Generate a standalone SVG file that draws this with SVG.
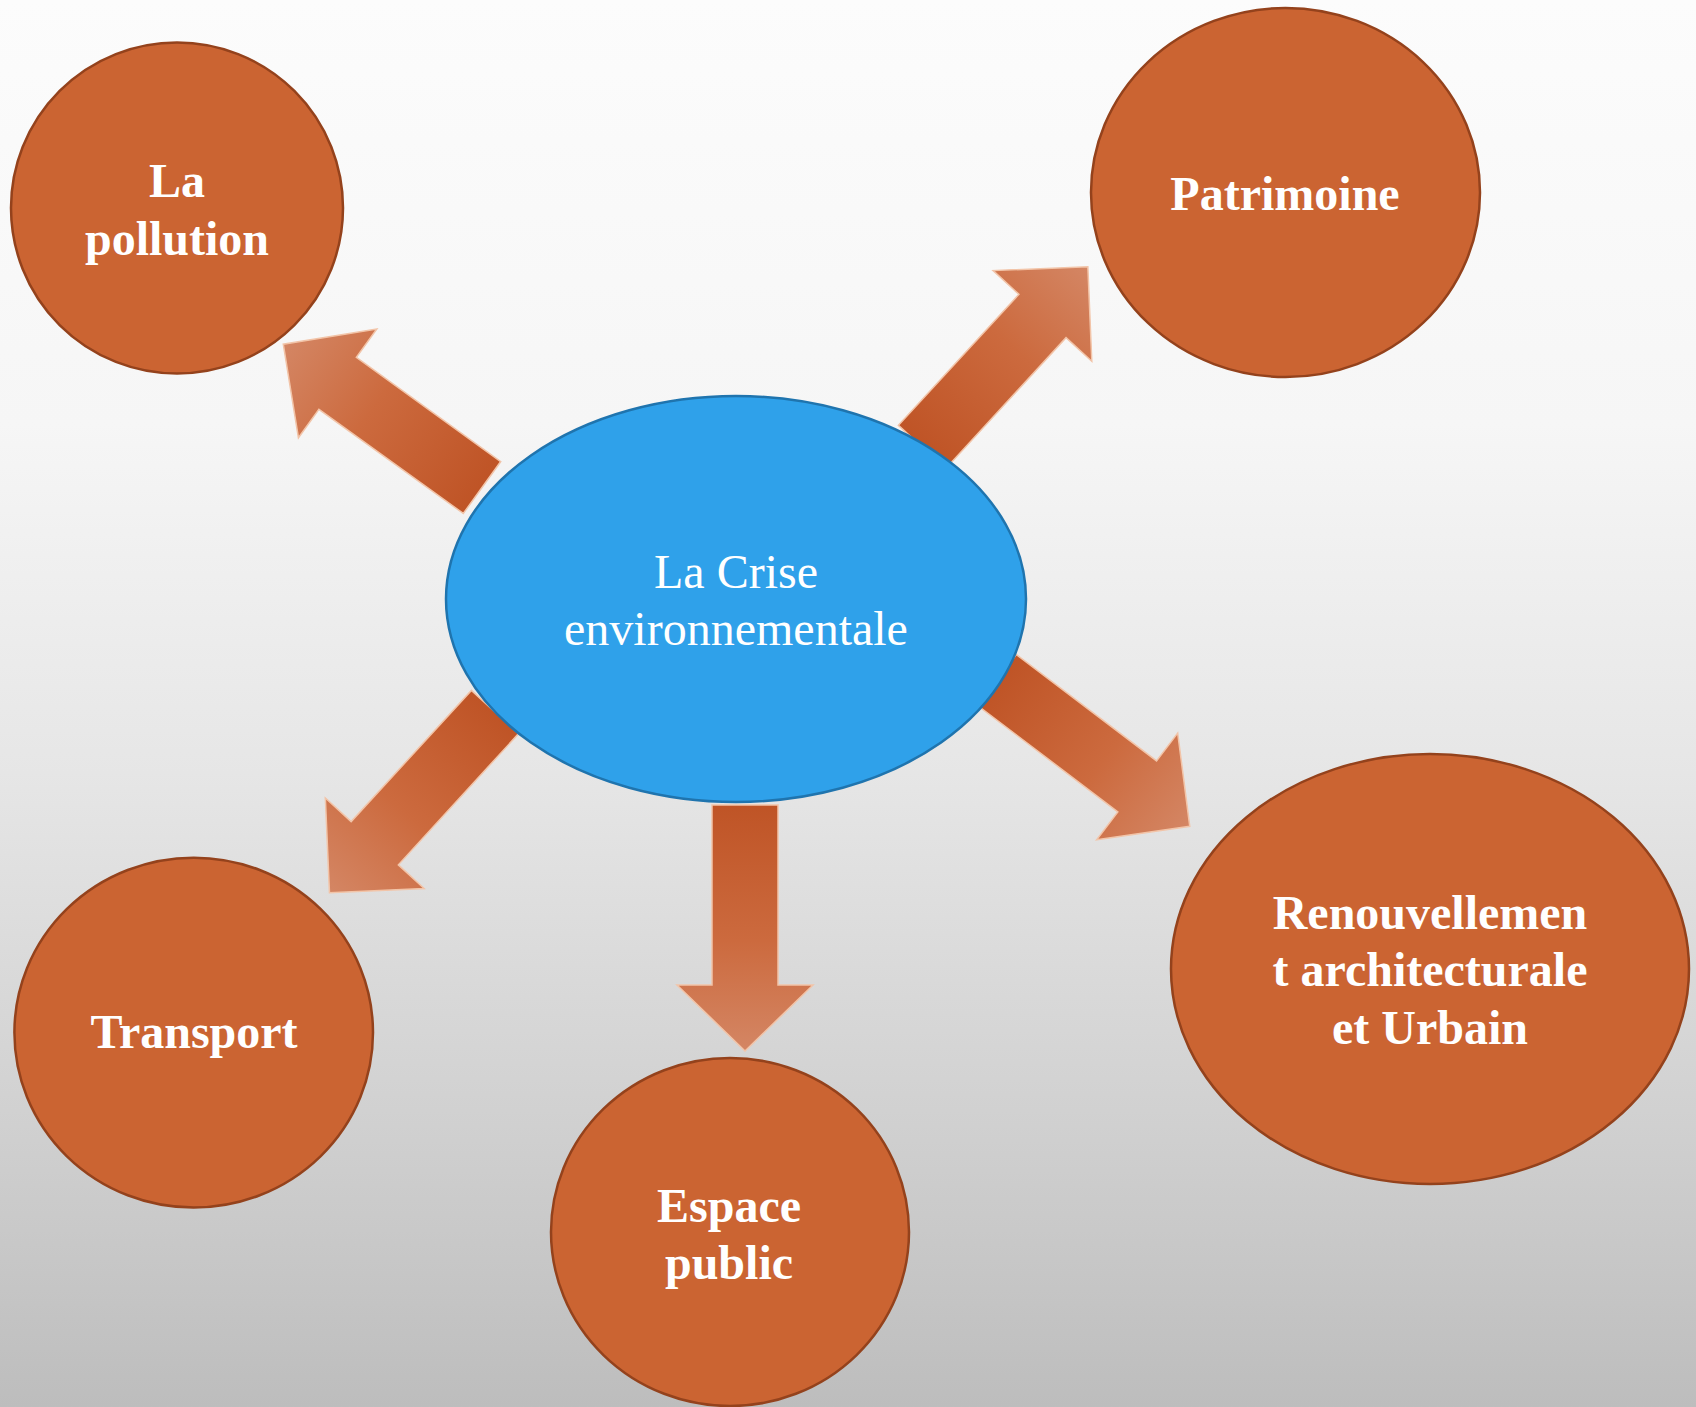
<svg xmlns="http://www.w3.org/2000/svg" width="1696" height="1407" viewBox="0 0 1696 1407">
  <defs>
    <linearGradient id="bg" x1="0" y1="0" x2="0" y2="1">
      <stop offset="0" stop-color="#fcfcfc"/>
      <stop offset="0.3" stop-color="#f6f6f6"/>
      <stop offset="0.55" stop-color="#e6e6e6"/>
      <stop offset="0.8" stop-color="#d0d0d0"/>
      <stop offset="1" stop-color="#bdbdbd"/>
    </linearGradient>
    <linearGradient id="arrowGrad" x1="0" y1="0" x2="1" y2="0">
      <stop offset="0" stop-color="#bf5426"/>
      <stop offset="0.55" stop-color="#cc6a3e"/>
      <stop offset="1" stop-color="#d48664"/>
    </linearGradient>
  </defs>
  <style>
    .arrow { fill: url(#arrowGrad); stroke: #f2c4a8; stroke-width: 1.5; stroke-linejoin: miter; }
    .node { fill: #cb6432; stroke: #94421c; stroke-width: 2.5; }
    .center { fill: #2fa1ea; stroke: #1f74ae; stroke-width: 2.5; }
    .lbl { font-family: "Liberation Serif", "Times New Roman", serif; font-size: 48px; font-weight: bold; fill: #ffffff; text-anchor: middle; }
    .clbl { font-family: "Liberation Serif", "Times New Roman", serif; font-size: 48px; fill: #ffffff; text-anchor: middle; }
  </style>

  <rect x="0" y="0" width="1696" height="1407" fill="url(#bg)"/>

  <g id="connectors">
    <polygon class="arrow" transform="translate(482,487.5) rotate(-144.2)" points="0,-32 178,-32 178,-67 245,0 178,67 178,32 0,32"/>
    <polygon class="arrow" transform="translate(922,447) rotate(-47.4)" points="0,-32 178,-32 178,-67 245,0 178,67 178,32 0,32"/>
    <polygon class="arrow" transform="translate(495,712) rotate(132.5)" points="0,-32 178,-32 178,-67 245,0 178,67 178,32 0,32"/>
    <polygon class="arrow" transform="translate(745,805) rotate(90)" points="0,-33 180,-33 180,-68 246,0 180,68 180,33 0,33"/>
    <polygon class="arrow" transform="translate(997,680) rotate(37.2)" points="0,-32 176,-32 176,-67 242,0 176,67 176,32 0,32"/>
  </g>

  <g id="crise">
    <ellipse class="center" cx="736" cy="599" rx="290" ry="203"/>
    <text class="clbl" x="736" y="588">La Crise</text>
    <text class="clbl" x="736" y="645">environnementale</text>
  </g>

  <g id="pollution">
    <ellipse class="node" cx="177" cy="208" rx="166" ry="165.5"/>
    <text class="lbl" x="177" y="197">La</text>
    <text class="lbl" x="177" y="255">pollution</text>
  </g>

  <g id="patrimoine">
    <ellipse class="node" cx="1285.5" cy="192.5" rx="194.5" ry="184.5"/>
    <text class="lbl" x="1285" y="210">Patrimoine</text>
  </g>

  <g id="transport">
    <ellipse class="node" cx="193.7" cy="1032.6" rx="179.3" ry="174.9"/>
    <text class="lbl" x="194" y="1048">Transport</text>
  </g>

  <g id="espace-public">
    <ellipse class="node" cx="730" cy="1232" rx="179" ry="174"/>
    <text class="lbl" x="729" y="1222">Espace</text>
    <text class="lbl" x="729" y="1279">public</text>
  </g>

  <g id="renouvellement">
    <ellipse class="node" cx="1430" cy="969" rx="259" ry="215"/>
    <text class="lbl" x="1430" y="929">Renouvellemen</text>
    <text class="lbl" x="1430" y="986">t architecturale</text>
    <text class="lbl" x="1430" y="1044">et Urbain</text>
  </g>
</svg>
